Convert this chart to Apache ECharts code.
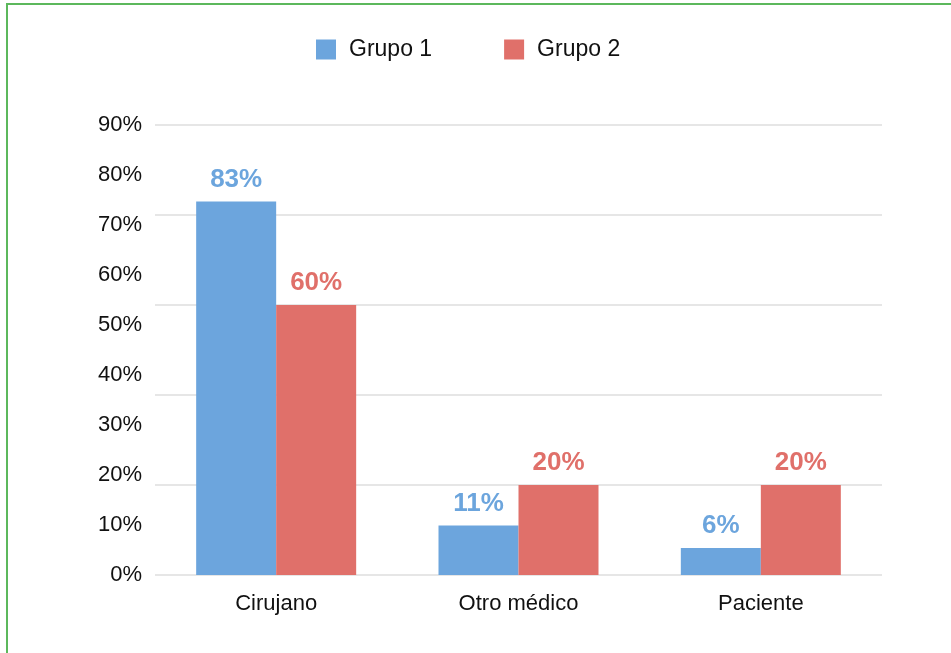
<!DOCTYPE html>
<html>
<head>
<meta charset="utf-8">
<script src="https://cdn.jsdelivr.net/npm/echarts@6/dist/echarts.min.js"></script>
<style>
html,body{margin:0;padding:0;background:#fff;}
#frame{position:absolute;left:6px;top:3px;width:945px;height:650px;border-top:2px solid #5cb85c;border-left:2px solid #5cb85c;box-sizing:border-box;}
#chart{position:absolute;left:0;top:0;width:951px;height:653px;}
</style>
</head>
<body>
<div id="frame"></div>
<div id="chart"></div>
<script>
const categories = ['Cirujano', 'Otro médico', 'Paciente'];
const grupo1 = [83, 11, 6];
const grupo2 = [60, 20, 20];
const seriesNames = ['Grupo 1', 'Grupo 2'];
const blue = '#6ca5dd';
const red = '#e0706a';
const FONT = '"Liberation Sans", Arial, Helvetica, sans-serif';

const chart = echarts.init(document.getElementById('chart'));
chart.setOption({
  animation: false,
  textStyle: { fontFamily: FONT },
  legend: {
    left: 316, top: 38, padding: 0,
    itemWidth: 20, itemHeight: 20, itemGap: 72,
    icon: 'rect',
    textStyle: { fontSize: 23, color: '#111', fontFamily: FONT, padding: [0, 0, 0, 8] },
    data: seriesNames
  },
  grid: { left: 155, right: 69, top: 125, bottom: 78, containLabel: false },
  xAxis: {
    type: 'category',
    data: categories,
    axisLine: { show: false },
    axisTick: { show: false },
    axisLabel: { fontSize: 22, color: '#111', margin: 18, fontFamily: FONT }
  },
  yAxis: [
    {
      type: 'value', min: 0, max: 100, interval: 20,
      axisLabel: { show: false },
      axisLine: { show: false }, axisTick: { show: false },
      splitLine: { lineStyle: { color: '#e6e6e6', width: 2 } }
    },
    {
      type: 'value', min: 0, max: 90, interval: 10, position: 'left',
      axisLabel: { fontSize: 22, color: '#111', margin: 13, formatter: '{value}%', fontFamily: FONT },
      axisLine: { show: false }, axisTick: { show: false },
      splitLine: { show: false }
    }
  ],
  series: [
    {
      name: seriesNames[0], type: 'bar', yAxisIndex: 0, data: grupo1,
      barWidth: 80, barGap: '0%',
      itemStyle: { color: blue },
      label: { show: true, position: 'top', distance: 9, formatter: '{c}%', color: blue, fontSize: 26, fontWeight: 'bold', fontFamily: FONT }
    },
    {
      name: seriesNames[1], type: 'bar', yAxisIndex: 0, data: grupo2,
      barWidth: 80, barGap: '0%',
      itemStyle: { color: red },
      label: { show: true, position: 'top', distance: 9, formatter: '{c}%', color: red, fontSize: 26, fontWeight: 'bold', fontFamily: FONT }
    }
  ]
});
</script>
</body>
</html>
